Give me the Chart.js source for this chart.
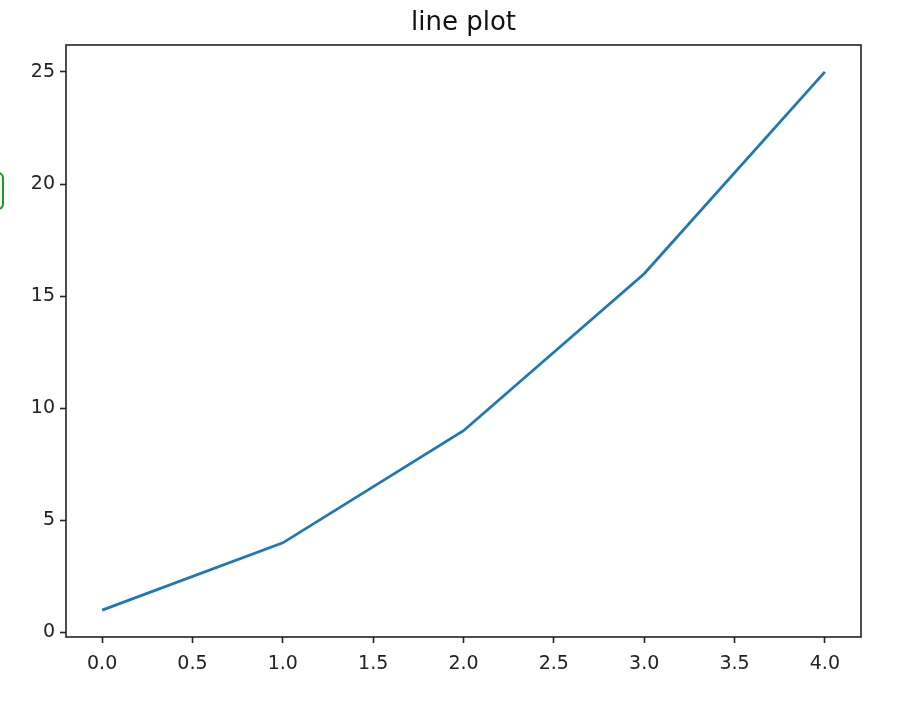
<!DOCTYPE html>
<html>
<head>
<meta charset="utf-8">
<script src="https://cdn.jsdelivr.net/npm/chart.js@4.4.0/dist/chart.umd.min.js"></script>
<style>
  body { margin: 0; background: #fff; }
  #wrap { position: relative; width: 900px; height: 708px; overflow: hidden; }
  #edge { position: absolute; left: -30px; top: 172px; width: 30px; height: 34px;
          border: 2px solid #1a9a1a; border-radius: 6px; }
</style>
</head>
<body>
<div id="wrap">
  <canvas id="plot" width="900" height="708"></canvas>
  <div id="edge"></div>
</div>
<script>
var titleText = "line plot";
var xValues = [0, 1, 2, 3, 4];
var yValues = [1, 4, 9, 16, 25];
var xTicks = [0, 0.5, 1, 1.5, 2, 2.5, 3, 3.5, 4];
var yTicks = [0, 5, 10, 15, 20, 25];

var points = [];
for (var i = 0; i < xValues.length; i++) {
  points.push({ x: xValues[i], y: yValues[i] });
}

// frame round the plot area, plus the title centred over it (matplotlib style)
var frame = {
  id: "frame",
  afterDraw: function (chart) {
    var a = chart.chartArea;
    var ctx = chart.ctx;
    ctx.save();
    ctx.strokeStyle = "#222";
    ctx.lineWidth = 1.6;
    ctx.strokeRect(a.left, a.top, a.right - a.left, a.bottom - a.top);
    ctx.fillStyle = "#111";
    ctx.font = "26px 'DejaVu Sans', sans-serif";
    ctx.textAlign = "center";
    ctx.textBaseline = "middle";
    ctx.fillText(titleText, (a.left + a.right) / 2, 23);
    ctx.restore();
  }
};

Chart.defaults.font.family = "'DejaVu Sans', sans-serif";
Chart.defaults.color = "#222";

new Chart(document.getElementById("plot").getContext("2d"), {
  type: "line",
  data: {
    datasets: [{
      data: points,
      borderColor: "#1f77b4",
      borderWidth: 2.8,
      pointRadius: 0,
      tension: 0,
      fill: false
    }]
  },
  options: {
    responsive: false,
    animation: false,
    layout: { padding: { left: 0, right: 39, top: 45, bottom: 0 } },
    plugins: {
      legend: { display: false },
      tooltip: { enabled: false },
      title: { display: false }
    },
    scales: {
      x: {
        type: "linear",
        min: -0.2,
        max: 4.2,
        afterBuildTicks: function (s) { s.ticks = xTicks.map(function (v) { return { value: v }; }); },
        afterFit: function (s) { s.height = 71; },
        grid: { drawOnChartArea: false, drawTicks: true, tickLength: 6, tickColor: "#222", tickWidth: 1.6 },
        border: { display: false },
        ticks: {
          font: { size: 19 },
          padding: 10,
          maxRotation: 0,
          callback: function (v) { return Number(v).toFixed(1); }
        }
      },
      y: {
        type: "linear",
        min: -0.2,
        max: 26.2,
        afterBuildTicks: function (s) { s.ticks = yTicks.map(function (v) { return { value: v }; }); },
        afterFit: function (s) { s.width = 66; },
        grid: { drawOnChartArea: false, drawTicks: true, tickLength: 6, tickColor: "#222", tickWidth: 1.6 },
        border: { display: false },
        ticks: {
          font: { size: 19 },
          padding: 5,
          callback: function (v) { return String(v); }
        }
      }
    }
  },
  plugins: [frame]
});
</script>
</body>
</html>
